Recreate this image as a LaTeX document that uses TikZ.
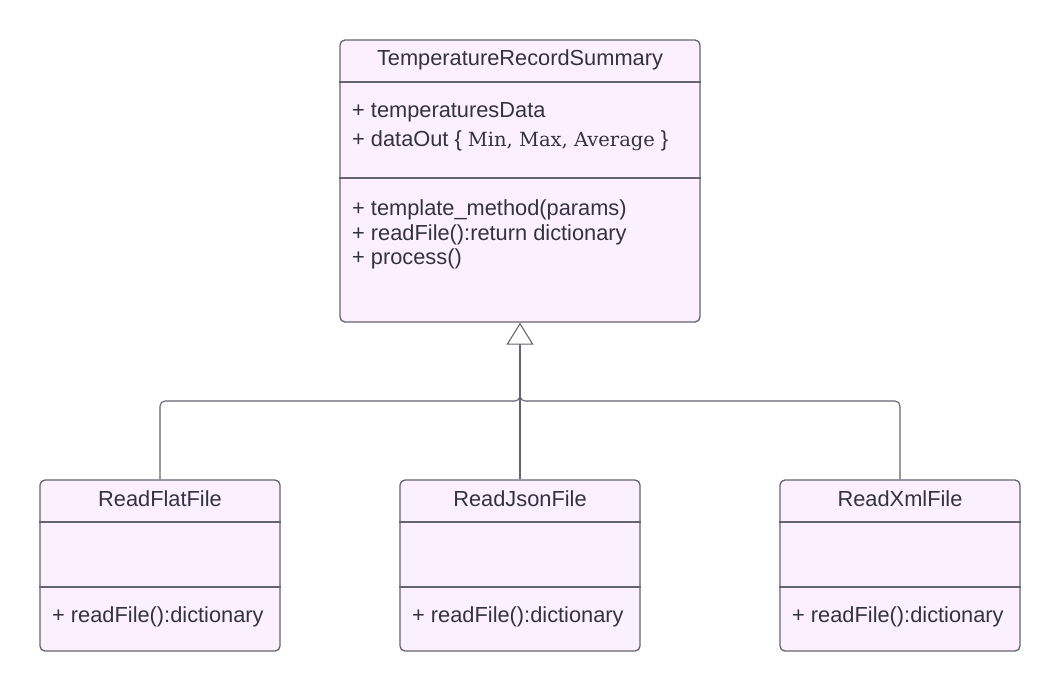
\documentclass[tikz,border=0pt]{standalone}
\usepackage{fontspec}
\setmainfont{Liberation Sans}
\newfontfamily\slabfont{DejaVu Serif}
\usetikzlibrary{arrows.meta}
\definecolor{boxfill}{RGB}{252,240,255}
\definecolor{boxline}{RGB}{100,100,115}
\definecolor{txt}{RGB}{51,51,64}
\tikzset{
  umlbox/.style={draw=boxline, fill=boxfill, line width=1.3pt, rounded corners=5pt, inner sep=0pt},
  divider/.style={draw=boxline, line width=1.3pt},
  conn/.style={draw=boxline, line width=1.1pt, rounded corners=5pt},
  lbl/.style={text=txt, font=\fontsize{21.8}{26}\selectfont, inner sep=0pt},
  member/.style={lbl, anchor=west},
}
\begin{document}
\begin{tikzpicture}[x=1pt,y=-1pt]
\useasboundingbox (0,0) rectangle (1060,691);
% boxes
\node[umlbox, minimum width=360pt, minimum height=282pt] (top) at (520,181) {};
\node[umlbox, minimum width=240pt, minimum height=171pt] (flat) at (160,565.5) {};
\node[umlbox, minimum width=240pt, minimum height=171pt] (json) at (520,565.5) {};
\node[umlbox, minimum width=240pt, minimum height=171pt] (xml) at (900,565.5) {};
% dividers
\draw[divider] (top.west |- 0,82) -- (top.east |- 0,82);
\draw[divider] (top.west |- 0,178) -- (top.east |- 0,178);
\foreach \b in {flat,json,xml}{
  \draw[divider] (\b.west |- 0,522) -- (\b.east |- 0,522);
  \draw[divider] (\b.west |- 0,587) -- (\b.east |- 0,587);
}
% texts top
\node[lbl] (toptitle) at (520,60) {TemperatureRecordSummary};
\node[member] (a1) at (352,112) {+ temperaturesData};
\node[member] (a2) at (352,141) {+ dataOut \{ {\slabfont\fontsize{19.5}{24}\selectfont Min, Max, Average} \}};
\node[member] (m1) at (352,210) {+ template\_method(params)};
\node[member] (m2) at (352,234.5) {+ readFile():return dictionary};
\node[member] (m3) at (352,259) {+ process()};
% texts bottom
\node[lbl] (t1) at (160,499) {ReadFlatFile};
\node[lbl] (t2) at (520,499) {ReadJsonFile};
\node[lbl] (t3) at (900,499) {ReadXmlFile};
\node[member] (f1) at (52,617) {+ readFile():dictionary};
\node[member] (f2) at (412,617) {+ readFile():dictionary};
\node[member] (f3) at (792,617) {+ readFile():dictionary};
% connectors
\coordinate (hub) at (520,401);
\coordinate (hubup) at (520,392);
\draw[conn] (flat.north) -- (flat.north |- hub) -- (hub) -- (hubup);
\draw[conn] (xml.north) -- (xml.north |- hub) -- (hub) -- (hubup);
\draw[conn, -{Triangle[length=22pt, width=27pt, fill=white, line width=1.1pt]}] (json.north) -- (top.south);
\end{tikzpicture}
\end{document}
